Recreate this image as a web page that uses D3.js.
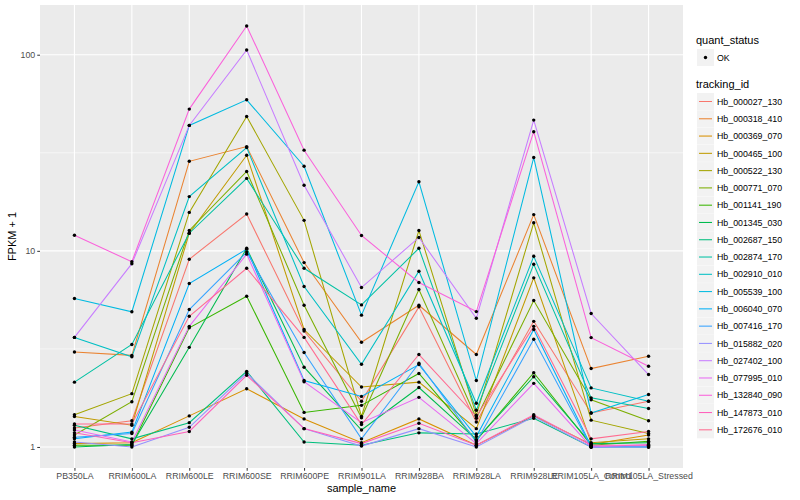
<!DOCTYPE html>
<html>
<head>
<meta charset="utf-8">
<script src="https://cdn.jsdelivr.net/npm/d3@7"></script>
<style>
  body { margin: 0; background: #fff; }
  text { font-family: "Liberation Sans", Arial, sans-serif; }
</style>
</head>
<body>
<div id="chart"></div>
<script>
// sample names along x
const samples = ["PB350LA", "RRIM600LA", "RRIM600LE", "RRIM600SE", "RRIM600PE", "RRIM901LA",
  "RRIM928BA", "RRIM928LA", "RRIM928LE", "RRIM105LA_Control", "RRIM105LA_Stressed"];

const trackingIds = ["Hb_000027_130", "Hb_000318_410", "Hb_000369_070", "Hb_000465_100", "Hb_000522_130",
  "Hb_000771_070", "Hb_001141_190", "Hb_001345_030", "Hb_002687_150", "Hb_002874_170",
  "Hb_002910_010", "Hb_005539_100", "Hb_006040_070", "Hb_007416_170", "Hb_015882_020",
  "Hb_027402_100", "Hb_077995_010", "Hb_132840_090", "Hb_147873_010", "Hb_172676_010"];

// FPKM + 1 per sample, one array per gene
const hb_000027_130 = [1.25, 1.36, 9.06, 15.4, 3.9, 1.71, 5.18, 1.34, 4.37, 1.49, 1.71];
const hb_000318_410 = [3.05, 2.93, 28.6, 34.0, 8.71, 3.42, 5.28, 2.96, 15.3, 2.51, 2.9];
const hb_000369_070 = [1.04, 1.05, 1.44, 1.98, 1.39, 1.05, 1.39, 1.02, 1.44, 1.03, 1.15];
const hb_000465_100 = [1.43, 1.29, 12.3, 30.7, 3.97, 2.02, 2.14, 1.24, 7.28, 1.05, 1.10];
const hb_000522_130 = [1.46, 1.87, 15.7, 48.4, 14.3, 1.43, 12.7, 1.45, 13.9, 1.37, 1.17];
const hb_000771_070 = [1.15, 1.70, 12.7, 25.4, 5.28, 1.41, 6.35, 1.40, 5.58, 1.74, 1.36];
const hb_001141_190 = [1.02, 1.02, 4.05, 5.87, 1.50, 1.63, 2.37, 1.08, 2.39, 1.02, 1.07];
const hb_001345_030 = [1.0, 1.03, 3.22, 10.3, 2.55, 1.22, 2.01, 1.09, 2.28, 1.04, 1.05];
const hb_002687_150 = [1.29, 1.10, 1.33, 2.43, 1.06, 1.02, 1.18, 1.165, 1.40, 1.0, 1.0];
const hb_002874_170 = [2.14, 3.33, 12.3, 23.4, 8.15, 5.3, 10.3, 1.54, 8.54, 1.78, 1.57];
const hb_002910_010 = [3.62, 2.88, 18.9, 33.6, 6.58, 2.64, 7.87, 1.67, 9.38, 2.0, 1.71];
const hb_005539_100 = [5.71, 4.89, 43.6, 58.9, 27.0, 4.7, 22.5, 2.18, 29.9, 1.49, 1.85];
const hb_006040_070 = [1.10, 1.19, 6.81, 10.2, 2.18, 1.81, 2.63, 1.13, 3.97, 1.01, 1.0];
const hb_007416_170 = [1.12, 1.17, 5.02, 9.85, 3.03, 1.10, 2.67, 1.06, 3.54, 1.0, 1.01];
const hb_015882_020 = [1.06, 1.0, 1.26, 2.38, 1.24, 1.01, 1.24, 1.0, 1.43, 1.0, 1.0];
const hb_027402_100 = [3.62, 8.6, 43.6, 105.7, 21.6, 6.5, 11.7, 4.53, 46.4, 4.79, 2.34];
const hb_077995_010 = [1.22, 1.06, 4.12, 9.62, 2.15, 1.33, 1.79, 1.04, 2.11, 1.0, 1.03];
const hb_132840_090 = [12.0, 8.8, 52.8, 140, 32.6, 11.97, 6.9, 4.9, 40.5, 3.61, 2.58];
const hb_147873_010 = [1.18, 1.05, 1.2, 2.32, 1.24, 1.04, 1.32, 1.02, 1.46, 1.02, 1.02];
const hb_172676_010 = [1.31, 1.31, 4.64, 8.15, 3.62, 1.30, 2.96, 1.43, 4.12, 1.10, 1.20];

const seriesValues = [hb_000027_130, hb_000318_410, hb_000369_070, hb_000465_100, hb_000522_130,
  hb_000771_070, hb_001141_190, hb_001345_030, hb_002687_150, hb_002874_170,
  hb_002910_010, hb_005539_100, hb_006040_070, hb_007416_170, hb_015882_020,
  hb_027402_100, hb_077995_010, hb_132840_090, hb_147873_010, hb_172676_010];

const yTicks = [1, 10, 100];
const yMinor = [Math.sqrt(10), Math.sqrt(1000)];

// ggplot hue palette, 20 levels
const colors = ["#F8766D", "#EA8331", "#D89000", "#C09B00", "#A3A500", "#7CAE00", "#39B600", "#00BB4E",
  "#00BF7D", "#00C1A3", "#00BFC4", "#00BAE0", "#00B0F6", "#35A2FF", "#9590FF", "#C77CFF",
  "#E76BF3", "#FA62DB", "#FF62BC", "#FF6C91"];

const width = 800, height = 500;
const panel = { left: 40, right: 683, top: 5, bottom: 468 };

const svg = d3.select("#chart").append("svg")
  .attr("width", width)
  .attr("height", height);

const x = d3.scalePoint()
  .domain(samples)
  .range([panel.left, panel.right])
  .padding(0.6);

// log scale with 5% expansion like ggplot
const all = seriesValues.flat();
const lo = Math.log10(d3.min(all)), hi = Math.log10(d3.max(all));
const pad = (hi - lo) * 0.05;
const y = d3.scaleLog()
  .domain([Math.pow(10, lo - pad), Math.pow(10, hi + pad)])
  .range([panel.bottom, panel.top]);

// panel background + grid
svg.append("rect")
  .attr("x", panel.left).attr("y", panel.top)
  .attr("width", panel.right - panel.left).attr("height", panel.bottom - panel.top)
  .attr("fill", "#EBEBEB");

svg.selectAll(".minor").data(yMinor).enter().append("line")
  .attr("x1", panel.left).attr("x2", panel.right)
  .attr("y1", d => y(d)).attr("y2", d => y(d))
  .attr("stroke", "#fff").attr("stroke-width", 0.55);

svg.selectAll(".ymajor").data(yTicks).enter().append("line")
  .attr("x1", panel.left).attr("x2", panel.right)
  .attr("y1", d => y(d)).attr("y2", d => y(d))
  .attr("stroke", "#fff").attr("stroke-width", 1.1);

svg.selectAll(".xmajor").data(samples).enter().append("line")
  .attr("x1", d => x(d)).attr("x2", d => x(d))
  .attr("y1", panel.top).attr("y2", panel.bottom)
  .attr("stroke", "#fff").attr("stroke-width", 1.1);

// lines
const line = d3.line()
  .x((d, i) => x(samples[i]))
  .y(d => y(d));

svg.append("g").selectAll("path")
  .data(seriesValues)
  .enter().append("path")
  .attr("d", line)
  .attr("fill", "none")
  .attr("stroke", (d, i) => colors[i])
  .attr("stroke-width", 1.05);

// points
const pts = [];
seriesValues.forEach(s => s.forEach((v, i) => pts.push({ s: samples[i], v })));
svg.append("g").selectAll("circle")
  .data(pts)
  .enter().append("circle")
  .attr("cx", d => x(d.s))
  .attr("cy", d => y(d.v))
  .attr("r", 1.7)
  .attr("fill", "#000");

// axes
const yAxis = d3.axisLeft(y).tickValues(yTicks).tickFormat(d3.format("d")).tickSize(2.75).tickPadding(2);
const gy = svg.append("g").attr("transform", `translate(${panel.left},0)`).call(yAxis);
gy.select(".domain").remove();
gy.selectAll("line").attr("stroke", "#333");
gy.selectAll("text").attr("fill", "#4D4D4D").style("font-size", "8.8px");

const xAxis = d3.axisBottom(x).tickSize(2.75).tickPadding(2);
const gx = svg.append("g").attr("transform", `translate(0,${panel.bottom})`).call(xAxis);
gx.select(".domain").remove();
gx.selectAll("line").attr("stroke", "#333");
gx.selectAll("text").attr("fill", "#4D4D4D").style("font-size", "8.8px");

svg.append("text")
  .attr("x", (panel.left + panel.right) / 2)
  .attr("y", 492)
  .attr("text-anchor", "middle")
  .style("font-size", "11px")
  .text("sample_name");

svg.append("text")
  .attr("transform", `translate(16,${(panel.top + panel.bottom) / 2}) rotate(-90)`)
  .attr("text-anchor", "middle")
  .style("font-size", "11px")
  .text("FPKM + 1");

// legends
const lg = svg.append("g").attr("transform", "translate(696,0)");
lg.append("text").attr("x", 0).attr("y", 44).style("font-size", "11px").text("quant_status");
lg.append("rect").attr("x", 1).attr("y", 49).attr("width", 17).attr("height", 17).attr("fill", "#F2F2F2");
lg.append("circle").attr("cx", 9.5).attr("cy", 57.5).attr("r", 1.7).attr("fill", "#000");
lg.append("text").attr("x", 21).attr("y", 60.5).style("font-size", "8.8px").text("OK");

lg.append("text").attr("x", 0).attr("y", 88).style("font-size", "11px").text("tracking_id");
const keys = lg.selectAll(".key").data(trackingIds).enter().append("g")
  .attr("transform", (d, i) => `translate(1,${93 + i * 17.28})`);
keys.append("rect").attr("width", 17).attr("height", 17).attr("fill", "#F2F2F2");
keys.append("line")
  .attr("x1", 2).attr("x2", 15).attr("y1", 8.5).attr("y2", 8.5)
  .attr("stroke", (d, i) => colors[i]).attr("stroke-width", 1.05);
keys.append("text").attr("x", 20).attr("y", 11.7).style("font-size", "8.8px").text(d => d);
</script>
</body>
</html>
